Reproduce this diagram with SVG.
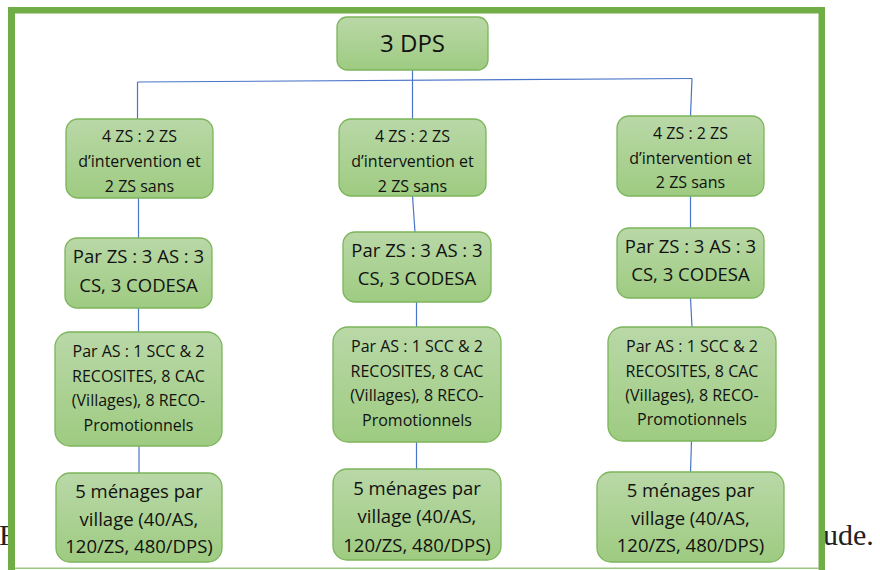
<svg xmlns="http://www.w3.org/2000/svg" width="880" height="570" viewBox="0 0 880 570">
<defs>
<linearGradient id="g" x1="0" y1="0" x2="0" y2="1">
<stop offset="0" stop-color="#b9d8a7"/>
<stop offset="1" stop-color="#9ecb81"/>
</linearGradient>
<style>
.n{fill:url(#g);stroke:#7cb55a;stroke-width:1.3}
.t{font-family:"Open Sans","Liberation Sans",sans-serif;fill:#111;text-anchor:middle}
.s16{font-size:16px}
.s18{font-size:18.5px}
.c{stroke:#4a74c8;stroke-width:1.2;fill:none}
.cap{font-family:"Liberation Serif",serif;font-size:30px;fill:#222}
</style>
</defs>
<rect width="880" height="570" fill="#fff"/>
<text class="cap" x="-1" y="545">F</text>
<text class="cap" x="823" y="545">ude.</text>
<rect x="11.5" y="10" width="810" height="558" fill="#fff"/>
<g id="frame" fill="#70ad47">
<rect x="8" y="7" width="817" height="6.5"/>
<rect x="8" y="7" width="7" height="563"/>
<rect x="818.5" y="7" width="6.5" height="563"/>
<rect x="15" y="567.5" width="804" height="1.5" fill="#9cc784"/>
</g>
<g id="connectors" class="c">
<path d="M412.5 70 V119"/>
<path d="M137.5 82 L692 78.5"/>
<path d="M137.5 82 V119"/>
<path d="M692 78.5 L690.5 116"/>
<path d="M138.5 198 V238"/>
<path d="M138.5 308 V332"/>
<path d="M139 446 V473"/>
<path d="M412.5 196 L415 232"/>
<path d="M416.5 302 V327"/>
<path d="M416.5 442 V469"/>
<path d="M690.5 196 V228"/>
<path d="M690.5 298 L692 327"/>
<path d="M691.5 441 L690.5 472"/>
</g>
<g id="dps">
<rect class="n" x="337" y="17" width="151" height="53" rx="10"/>
<text class="t" x="412.5" y="52" font-size="24">3 DPS</text>
</g>
<g id="zs1">
<rect class="n" x="66" y="119" width="147" height="79" rx="12"/>
<text class="t s16" x="139.5" y="142">4 ZS : 2 ZS</text>
<text class="t s16" x="139.5" y="167">d’intervention et</text>
<text class="t s16" x="139.5" y="192">2 ZS sans</text>
</g>
<g id="as1">
<rect class="n" x="65" y="238" width="147" height="70" rx="12"/>
<text class="t s18" x="138.5" y="263">Par ZS : 3 AS : 3</text>
<text class="t s18" x="138.5" y="291.5">CS, 3 CODESA</text>
</g>
<g id="par1">
<rect class="n" x="55" y="332" width="167" height="114" rx="15"/>
<text class="t s16" x="138.5" y="357">Par AS : 1 SCC &amp; 2</text>
<text class="t s16" x="138.5" y="381.5">RECOSITES, 8 CAC</text>
<text class="t s16" x="138.5" y="406">(Villages), 8 RECO-</text>
<text class="t s16" x="138.5" y="430.5">Promotionnels</text>
</g>
<g id="men1">
<rect class="n" x="56" y="473" width="166" height="89" rx="14"/>
<text class="t s18" x="139" y="498">5 ménages par</text>
<text class="t s18" x="139" y="526">village (40/AS,</text>
<text class="t s18" x="139" y="553">120/ZS, 480/DPS)</text>
</g>
<g id="zs2">
<rect class="n" x="339" y="119" width="147" height="77" rx="12"/>
<text class="t s16" x="412.5" y="142">4 ZS : 2 ZS</text>
<text class="t s16" x="412.5" y="166.5">d’intervention et</text>
<text class="t s16" x="412.5" y="191.5">2 ZS sans</text>
</g>
<g id="as2">
<rect class="n" x="343" y="232" width="148" height="70" rx="12"/>
<text class="t s18" x="417" y="257">Par ZS : 3 AS : 3</text>
<text class="t s18" x="417" y="285">CS, 3 CODESA</text>
</g>
<g id="par2">
<rect class="n" x="333" y="327" width="168" height="115" rx="15"/>
<text class="t s16" x="417" y="352">Par AS : 1 SCC &amp; 2</text>
<text class="t s16" x="417" y="376.5">RECOSITES, 8 CAC</text>
<text class="t s16" x="417" y="401">(Villages), 8 RECO-</text>
<text class="t s16" x="417" y="425.5">Promotionnels</text>
</g>
<g id="men2">
<rect class="n" x="333" y="469" width="168" height="91" rx="14"/>
<text class="t s18" x="417" y="495">5 ménages par</text>
<text class="t s18" x="417" y="523">village (40/AS,</text>
<text class="t s18" x="417" y="551.5">120/ZS, 480/DPS)</text>
</g>
<g id="zs3">
<rect class="n" x="617" y="116" width="147" height="80" rx="12"/>
<text class="t s16" x="690.5" y="139">4 ZS : 2 ZS</text>
<text class="t s16" x="690.5" y="163.5">d’intervention et</text>
<text class="t s16" x="690.5" y="188">2 ZS sans</text>
</g>
<g id="as3">
<rect class="n" x="617" y="228" width="147" height="70" rx="12"/>
<text class="t s18" x="690.5" y="253">Par ZS : 3 AS : 3</text>
<text class="t s18" x="690.5" y="281">CS, 3 CODESA</text>
</g>
<g id="par3">
<rect class="n" x="608" y="327" width="168" height="114" rx="15"/>
<text class="t s16" x="692" y="352">Par AS : 1 SCC &amp; 2</text>
<text class="t s16" x="692" y="376.5">RECOSITES, 8 CAC</text>
<text class="t s16" x="692" y="401">(Villages), 8 RECO-</text>
<text class="t s16" x="692" y="425">Promotionnels</text>
</g>
<g id="men3">
<rect class="n" x="597" y="472" width="187" height="90" rx="14"/>
<text class="t s18" x="690.5" y="497">5 ménages par</text>
<text class="t s18" x="690.5" y="525">village (40/AS,</text>
<text class="t s18" x="690.5" y="552">120/ZS, 480/DPS)</text>
</g>
</svg>
